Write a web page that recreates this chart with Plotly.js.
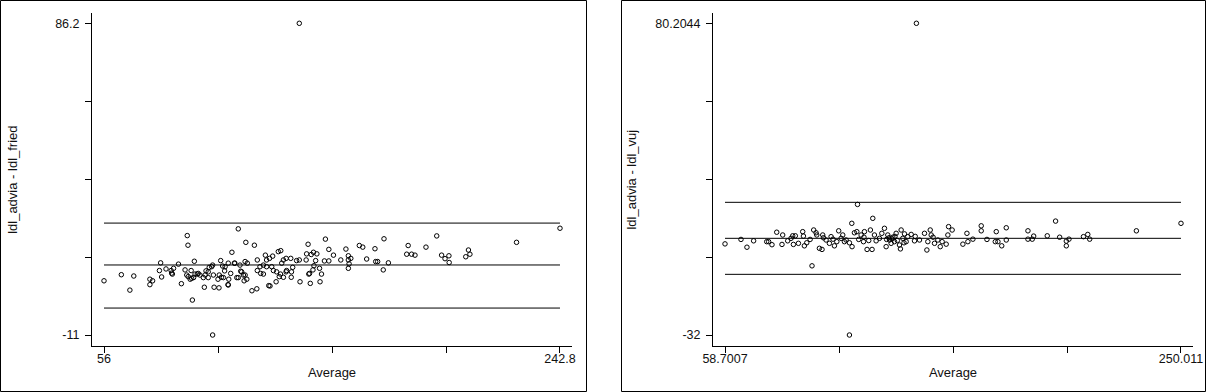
<!DOCTYPE html>
<html>
<head>
<meta charset="utf-8">
<script src="https://cdn.plot.ly/plotly-3.0.1.min.js"></script>
<style>html,body{margin:0;padding:0;background:#fff;}#chart{width:1208px;height:392px;}</style>
</head>
<body>
<div id="chart"></div>
<script>
// ---- Left panel: ldl_advia - ldl_fried vs Average ----
const leftAverage = [
  56,63.1,68.2,66.6,74.8,75.9,74.8,79.2,78.7,79.6,
  81.4,83.5,84.0,84.5,86.5,90.1,90.4,87.7,89.2,89.9,
  91.3,91.7,93.0,92.2,92.7,94.2,95.3,96.7,97.1,97.8,
  98.7,99.1,100.5,100.8,101.1,103.1,102.7,100.5,103.8,104.6,
  105.4,104.1,104.9,106.8,107.1,108.4,107.9,109.4,110.4,111.0,
  111.7,112.0,113.1,113.8,114.1,114.5,113.4,116.6,117.6,118.6,
  118.8,118.8,120.2,121.3,122.1,122.6,121.3,124.0,125.1,124.7,
  125.4,126.5,127.4,128.4,127.8,129.5,128.8,130.6,130.8,132.7,
  132.5,132.8,134.9,136.3,136.0,139.6,138.8,139.9,140.5,141.8,
  142.7,141.6,144.5,144.3,146.7,146.3,148.1,148.1,150.0,145.1,
  140.9,155.1,156.1,153.0,156.1,157.1,156.4,156.1,160.6,162.0,
  163.6,167.0,167.3,168.1,170.7,172.5,170.4,180.0,180.6,182.0,
  183.4,187.9,192.3,194.3,195.7,197.3,197.4,205.3,205.9,204.2,
  225.0,242.8,136.0,83.7,90.5,91.9,93.3,94.6,97.4,98.7,
  100.1,103.2,105.6,106.9,106.9,109.6,111.0,112.4,113.8,114.7,
  119.9,122.6,123.8,123.5,126.7,128.3,129.5,130.6,133.3,139.0,
  140.2,143.2,142.0
];
const leftDifference = [
  5.9,7.8,7.4,3.0,6.4,5.9,4.7,11.5,9.1,7.1,
  9.6,9.1,8.0,9.8,11.1,20.0,17.0,5.0,9.3,7.7,
  6.4,9.1,12.0,-0.1,6.9,8.0,7.7,6.9,3.9,9.0,
  6.9,10.1,10.8,7.7,3.9,3.7,6.4,-11.0,12.2,10.5,
  9.0,7.0,6.9,4.7,6.4,14.8,8.2,11.4,6.9,22.1,
  10.8,8.9,7.7,11.9,17.9,6.4,5.9,2.8,17.0,3.4,
  12.4,9.1,8.2,10.8,13.9,12.4,8.0,4.3,13.6,10.3,
  9.1,5.6,15.0,15.3,7.2,7.0,11.4,12.9,9.1,7.0,
  12.9,8.7,12.2,5.6,12.4,17.3,12.4,8.0,5.1,14.8,
  12.2,9.3,5.6,9.8,18.9,12.1,15.7,12.1,13.9,8.0,
  14.1,15.8,13.7,12.4,12.4,12.9,11.2,9.8,16.9,16.4,
  12.7,15.9,11.9,11.9,19.0,11.5,9.3,14.2,16.9,14.2,
  13.9,16.4,19.9,13.9,12.8,13.7,11.6,15.5,14.2,13.4,
  17.9,22.3,86.2,8.3,7.2,6.7,8.0,8.2,7.7,8.7,
  10.3,7.7,10.3,11.4,4.6,11.4,6.9,8.7,7.7,11.4,
  10.3,10.3,12.9,4.4,8.7,8.0,12.4,8.7,10.1,14.3,
  8.2,14.3,10.6
];
const leftLimits = [-2.6, 10.84, 23.9];           // lower LoA, mean, upper LoA
const leftXTicks = [56, 102.7, 149.4, 196.1, 242.8];
const leftXLabels = ["56", "", "", "", "242.8"];
const leftYTicks = [-11, 13.3, 37.6, 61.9, 86.2];
const leftYLabels = ["-11", "", "", "", "86.2"];

// ---- Right panel: ldl_advia - ldl_vuj vs Average ----
const rightAverage = [
  58.7007,65.4,67.9,70.7,76.2,77.0,78.4,80.4,82.9,82.6,
  85.0,86.4,87.1,88.2,87.4,89.5,91.3,91.6,92.0,93.0,
  94.4,95.2,95.9,96.9,97.2,98.3,99.4,99.7,101.1,102.5,
  103.2,104.6,105.6,106.4,107.4,108.1,108.8,109.5,110.9,111.9,
  112.0,113.0,114.3,114.0,114.8,115.8,116.8,117.2,118.3,119.7,
  120.4,120.7,121.4,122.1,123.5,124.5,125.6,126.3,127.0,127.7,
  128.4,129.1,129.8,130.5,131.9,132.3,132.6,133.3,134.0,134.7,
  135.4,136.8,138.2,140.3,142.4,143.4,143.8,144.8,145.2,146.6,
  148.0,149.0,149.8,151.5,152.5,154.0,152.2,158.5,160.2,160.6,
  162.7,166.2,166.2,168.6,172.1,173.2,172.5,174.8,176.7,176.7,
  185.8,185.8,187.6,188.2,193.9,197.4,199.1,201.9,201.9,203.0,
  209.1,210.9,211.7,231.3,250.011,139.0,110.9,127.5,128.8,130.0,
  131.0,133.8,126.5,100.0,104.0,117.0,119.0,138.5,146.0
];
const rightDifference = [
  0.8,2.4,-0.4,1.9,1.6,1.6,0.5,5.0,4.0,0.6,
  1.9,2.8,3.7,3.7,0.6,1.0,5.2,3.6,0.1,1.2,
  2.4,-7.1,5.8,4.8,4.0,-0.8,-1.2,4.0,2.2,1.0,
  3.4,0.1,1.6,5.5,2.8,4.0,1.6,2.2,1.2,8.2,
  -0.2,4.8,15.0,5.2,2.4,4.0,1.6,5.2,-1.2,5.8,
  -1.2,10.0,4.0,1.9,2.8,4.6,6.4,-0.2,4.0,2.2,
  1.0,3.2,1.6,4.6,0.4,-1.0,5.8,2.8,4.4,1.6,
  3.4,4.2,1.9,2.2,4.6,-1.4,1.6,5.8,4.0,1.0,
  2.2,-0.2,1.6,0.7,7.0,5.8,4.0,0.7,4.6,1.6,
  2.5,7.3,5.5,2.4,1.6,1.6,5.2,0.1,6.6,2.2,
  5.5,2.5,2.5,3.6,3.7,9.0,3.2,1.8,0.1,2.5,
  3.4,4.2,2.5,5.5,8.2,80.2044,-32,3.0,2.6,3.5,
  2.0,1.2,2.4,3.0,2.5,3.2,2.0,3.5,3.2
];
const rightLimits = [-10.16, 2.8, 15.76];
const rightXTicks = [58.7007, 106.5283, 154.3559, 202.1834, 250.011];
const rightXLabels = ["58.7007", "", "", "", "250.011"];
const rightYTicks = [-32, -3.9489, 24.1022, 52.1533, 80.2044];
const rightYLabels = ["-32", "", "", "", "80.2044"];

const FONT = "Liberation Sans, Arial, sans-serif";
const INK = "#111";

function scatter(x, y, xa, ya) {
  return {
    type: "scatter", mode: "markers", x: x, y: y, xaxis: xa, yaxis: ya,
    marker: {symbol: "circle-open", size: 4.5, color: "#000", line: {width: 1, color: "#000"}},
    hoverinfo: "skip", cliponaxis: false
  };
}
function limitLines(limits, xt, xa, ya) {
  return limits.map(v => ({
    type: "scatter", mode: "lines", x: [xt[0], xt[xt.length - 1]], y: [v, v],
    xaxis: xa, yaxis: ya, line: {color: "#000", width: 1}, hoverinfo: "skip"
  }));
}

const traces = [
  scatter(leftAverage, leftDifference, "x", "y"),
  ...limitLines(leftLimits, leftXTicks, "x", "y"),
  scatter(rightAverage, rightDifference, "x2", "y2"),
  ...limitLines(rightLimits, rightXTicks, "x2", "y2")
];

const W = 1208, H = 392;
const yDom = [(H - 346) / H, (H - 13.3) / H];

function axisBase() {
  return {
    showline: true, linecolor: "#000", linewidth: 1, mirror: false,
    ticks: "outside", ticklen: 6, tickwidth: 1, tickcolor: "#000",
    showgrid: false, zeroline: false, fixedrange: true,
    tickfont: {family: FONT, size: 12.5, color: INK}
  };
}

const layout = {
  width: W, height: H,
  margin: {l: 0, r: 0, t: 0, b: 0},
  paper_bgcolor: "#fff", plot_bgcolor: "#fff",
  showlegend: false,
  font: {family: FONT, size: 12.5, color: INK},
  xaxis: Object.assign(axisBase(), {
    domain: [92 / W, 572 / W], range: [51.08, 247.72], anchor: "y",
    tickmode: "array", tickvals: leftXTicks, ticktext: leftXLabels, ticklabelstandoff: -5,
    title: {text: "Average", font: {family: FONT, size: 13, color: INK}, standoff: 2}
  }),
  yaxis: Object.assign(axisBase(), {
    domain: yDom, range: [-14.43, 89.32], anchor: "x",
    tickmode: "array", tickvals: leftYTicks, ticktext: leftYLabels, ticklabelstandoff: 3,
    title: {text: "ldl_advia - ldl_fried", font: {family: FONT, size: 13, color: INK}, standoff: 34}
  }),
  xaxis2: Object.assign(axisBase(), {
    domain: [713 / W, 1193 / W], range: [53.66, 255.05], anchor: "y2",
    tickmode: "array", tickvals: rightXTicks, ticktext: rightXLabels, ticklabelstandoff: -5,
    title: {text: "Average", font: {family: FONT, size: 13, color: INK}, standoff: 2}
  }),
  yaxis2: Object.assign(axisBase(), {
    domain: yDom, range: [-35.96, 83.80], anchor: "x2",
    tickmode: "array", tickvals: rightYTicks, ticktext: rightYLabels, ticklabelstandoff: 3,
    title: {text: "ldl_advia - ldl_vuj", font: {family: FONT, size: 13, color: INK}, standoff: 15}
  }),
  shapes: [
    {type: "rect", xref: "paper", yref: "paper", x0: 0.5 / W, x1: 586.5 / W, y0: 0.5 / H, y1: 391.5 / H,
     line: {color: "#000", width: 1}, fillcolor: "rgba(0,0,0,0)", layer: "above"},
    {type: "rect", xref: "paper", yref: "paper", x0: 621.5 / W, x1: 1205.5 / W, y0: 0.5 / H, y1: 391.5 / H,
     line: {color: "#000", width: 1}, fillcolor: "rgba(0,0,0,0)", layer: "above"}
  ]
};

Plotly.newPlot("chart", traces, layout, {staticPlot: true, displayModeBar: false});
</script>
</body>
</html>
